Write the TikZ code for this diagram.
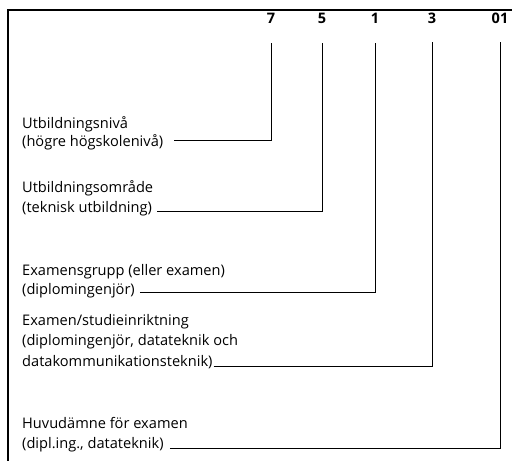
\documentclass[tikz,border=0pt]{standalone}
\usepackage{fontspec}
\setmainfont{Open Sans}
\begin{document}
\begin{tikzpicture}[x=1pt,y=-1pt,
  lbl/.style={anchor=base west,inner sep=0pt,font=\fontsize{14.6}{17}\selectfont},
  dig/.style={anchor=base,inner sep=0pt,font=\fontsize{14.5}{16}\selectfont\bfseries},
  conn/.style={draw=black,line width=0.9pt},
  frame/.style={draw=black,line width=1.2pt}]
\useasboundingbox (0,0) rectangle (512,461);
\draw[frame] (8,470) -- (8,10) -- (520,10);
% digits
\node[dig] (d7) at (271,23) {7};
\node[dig] (d5) at (322,23) {5};
\node[dig] (d1) at (375,23) {1};
\node[dig] (d3) at (432,23) {3};
\node[dig] (d01) at (500,23) {01};
% row 1
\node[lbl] (a1) at (22,128) {Utbildningsnivå};
\node[lbl] (a2) at (22,146) {(högre högskolenivå)};
% row 2
\node[lbl] (b1) at (22,192) {Utbildningsområde};
\node[lbl] (b2) at (22,212) {(teknisk utbildning)};
% row 3
\node[lbl] (c1) at (22,275) {Examensgrupp (eller examen)};
\node[lbl] (c2) at (22,294) {(diplomingenjör)};
% row 4
\node[lbl] (e1) at (22,325) {Examen/studieinriktning};
\node[lbl] (e2) at (22,345) {(diplomingenjör, datateknik och};
\node[lbl] (e3) at (22,366) {datakommunikationsteknik)};
% row 5
\node[lbl] (f1) at (22,428) {Huvudämne för examen};
\node[lbl] (f2) at (22,448) {(dipl.ing., datateknik)};
% connector start points
\coordinate (s1) at ([xshift=11pt]a2.base east |- 0,140);
\coordinate (s2) at ([xshift=5pt]b2.base east |- 0,211);
\coordinate (s3) at ([xshift=5pt]c2.base east |- 0,292);
\coordinate (s4) at ([xshift=1pt]e3.base east |- 0,366);
\coordinate (s5) at ([xshift=6pt]f2.base east |- 0,448);
\draw[conn,shorten >=20pt] (s1) -| (d7.south);
\draw[conn,shorten >=20pt] (s2) -| (d5.south);
\draw[conn,shorten >=20pt] (s3) -| (d1.south);
\draw[conn,shorten >=19pt] (s4) -| (d3.south);
\draw[conn,shorten >=19pt] (s5) -| (d01.south);
\end{tikzpicture}
\end{document}
